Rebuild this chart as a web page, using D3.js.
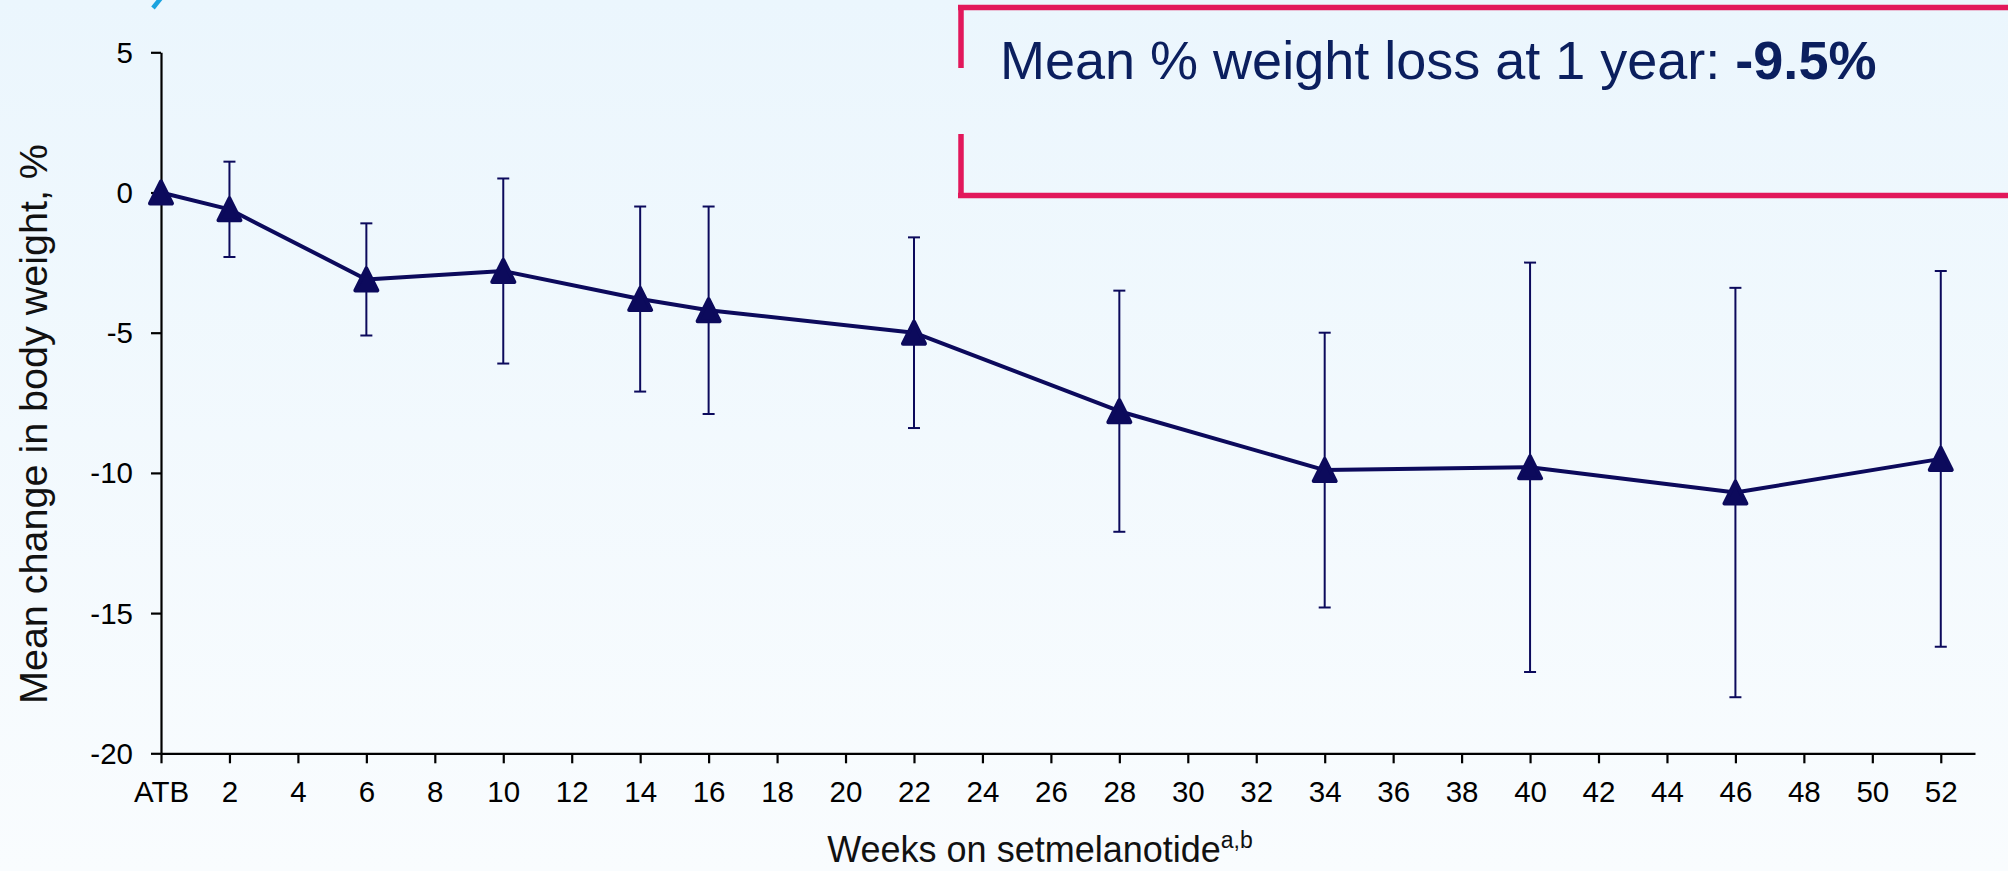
<!DOCTYPE html>
<html>
<head>
<meta charset="utf-8">
<script src="https://cdn.jsdelivr.net/npm/d3@7"></script>
<style>
  html, body { margin: 0; padding: 0; }
  body { width: 2008px; height: 871px; overflow: hidden; }
  svg { display: block; font-family: "Liberation Sans", Arial, Helvetica, sans-serif; }
</style>
</head>
<body>
<svg id="chart" width="2008" height="871"></svg>
<script>
// ---- data ----
const weeks = [0, 2, 6, 10, 14, 16, 22, 28, 34, 40, 46, 52];
const meanChange = [0, -0.6, -3.1, -2.8, -3.8, -4.2, -5.0, -7.8, -9.9, -9.8, -10.7, -9.5];
const sdChange = [0, 1.7, 2.0, 3.3, 3.3, 3.7, 3.4, 4.3, 4.9, 7.3, 7.3, 6.7];
const xTickValues = d3.range(0, 53, 2);
const xTickLabels = xTickValues.map(v => v === 0 ? "ATB" : String(v));
const yTickValues = [-20, -15, -10, -5, 0, 5];
const yTickLabels = ["-20", "-15", "-10", "-5", "0", "5"];
const yTitle = "Mean change in body weight, %";
const xTitle = "Weeks on setmelanotide";
const xTitleSup = "a,b";
const calloutText = "Mean % weight loss at 1 year: ";
const calloutValue = "-9.5%";

// ---- layout ----
const W = 2008, H = 871;
const navy = "#0c0a5c";
const svg = d3.select("#chart");

const defs = svg.append("defs");
const grad = defs.append("linearGradient").attr("id", "bg").attr("x1", 0).attr("y1", 0).attr("x2", 0).attr("y2", 1);
grad.append("stop").attr("offset", "0%").attr("stop-color", "#ebf6fd");
grad.append("stop").attr("offset", "100%").attr("stop-color", "#f9fcfe");
svg.append("rect").attr("width", W).attr("height", H).attr("fill", "url(#bg)");

// cut-off fragment of a title above the frame (decorative stroke)
svg.append("path").attr("d", "M161,-2 L153,8").attr("stroke", "#1aa3df")
  .attr("stroke-width", 4.5).attr("stroke-linecap", "butt").attr("fill", "none");

const x = d3.scaleLinear().domain([0, 53]).range([161, 1975]);
const y = d3.scaleLinear().domain([-20, 5]).range([753.3, 52.3]);

// axes
const xAxis = d3.axisBottom(x).tickValues(xTickValues)
  .tickFormat((d, i) => xTickLabels[i]).tickSize(10).tickSizeOuter(0).tickPadding(18);
const yAxis = d3.axisLeft(y).tickValues(yTickValues)
  .tickFormat((d, i) => yTickLabels[i]).tickSize(10).tickSizeOuter(0).tickPadding(18);

const gx = svg.append("g").attr("transform", `translate(0,${y(-20)})`).call(xAxis);
const gy = svg.append("g").attr("transform", `translate(${x(0)},0)`).call(yAxis);
[gx, gy].forEach(g => {
  g.select(".domain").attr("stroke", "#000").attr("stroke-width", 2.2);
  g.selectAll(".tick line").attr("stroke", "#000").attr("stroke-width", 2.2);
  g.selectAll(".tick text").attr("fill", "#000").attr("font-size", 29.5)
    .attr("font-family", "'Liberation Sans', Arial, sans-serif");
});
gy.selectAll(".tick text").attr("dy", "0.34em");

// axis titles
svg.append("text")
  .attr("transform", `translate(47,424) rotate(-90)`)
  .attr("text-anchor", "middle").attr("font-size", 39.5).attr("fill", "#111")
  .text(yTitle);

const xt = svg.append("text").attr("x", 1040).attr("y", 862)
  .attr("text-anchor", "middle").attr("font-size", 36).attr("fill", "#111");
xt.append("tspan").text(xTitle);
xt.append("tspan").attr("font-size", 23).attr("dy", -14).text(xTitleSup);

// data rows
const rows = weeks.map((w, i) => ({ w, m: meanChange[i], sd: sdChange[i] }));

// error bars
const eb = svg.append("g").attr("stroke", navy).attr("stroke-width", 2);
const ebRows = rows.filter(d => d.sd > 0);
eb.selectAll("line.v").data(ebRows).join("line").attr("class", "v")
  .attr("x1", d => x(d.w)).attr("x2", d => x(d.w))
  .attr("y1", d => y(d.m + d.sd)).attr("y2", d => y(d.m - d.sd));
eb.selectAll("line.t").data(ebRows).join("line").attr("class", "t")
  .attr("x1", d => x(d.w) - 6).attr("x2", d => x(d.w) + 6)
  .attr("y1", d => y(d.m + d.sd)).attr("y2", d => y(d.m + d.sd));
eb.selectAll("line.b").data(ebRows).join("line").attr("class", "b")
  .attr("x1", d => x(d.w) - 6).attr("x2", d => x(d.w) + 6)
  .attr("y1", d => y(d.m - d.sd)).attr("y2", d => y(d.m - d.sd));

// mean line
svg.append("path").datum(rows)
  .attr("fill", "none").attr("stroke", navy).attr("stroke-width", 4).attr("stroke-linejoin", "round")
  .attr("d", d3.line().x(d => x(d.w)).y(d => y(d.m)));

// triangle markers (box-centred, as in spreadsheet charts)
const boxTriangle = {
  draw(ctx, size) {
    const s = Math.sqrt(size);
    ctx.moveTo(0, -s / 2);
    ctx.lineTo(s / 2, s / 2);
    ctx.lineTo(-s / 2, s / 2);
    ctx.closePath();
  }
};
svg.append("g").selectAll("path").data(rows).join("path")
  .attr("transform", d => `translate(${x(d.w)},${y(d.m)})`)
  .attr("d", d3.symbol().type(boxTriangle).size(22 * 22))
  .attr("fill", navy).attr("stroke", navy).attr("stroke-width", 4).attr("stroke-linejoin", "round");

// callout box (extends past right edge)
const red = "#e2185b";
const box = svg.append("g").attr("stroke", red).attr("stroke-width", 5.5).attr("fill", "none");
box.append("line").attr("x1", 958).attr("x2", W + 10).attr("y1", 7.5).attr("y2", 7.5);
box.append("line").attr("x1", 958).attr("x2", W + 10).attr("y1", 195.5).attr("y2", 195.5);
box.append("line").attr("x1", 961).attr("x2", 961).attr("y1", 5).attr("y2", 68);
box.append("line").attr("x1", 961).attr("x2", 961).attr("y1", 134).attr("y2", 198);

const ct = svg.append("text").attr("x", 1000).attr("y", 79).attr("font-size", 54).attr("fill", "#0b1f5e");
ct.append("tspan").text(calloutText);
ct.append("tspan").attr("font-weight", "bold").text(calloutValue);
</script>
</body>
</html>
